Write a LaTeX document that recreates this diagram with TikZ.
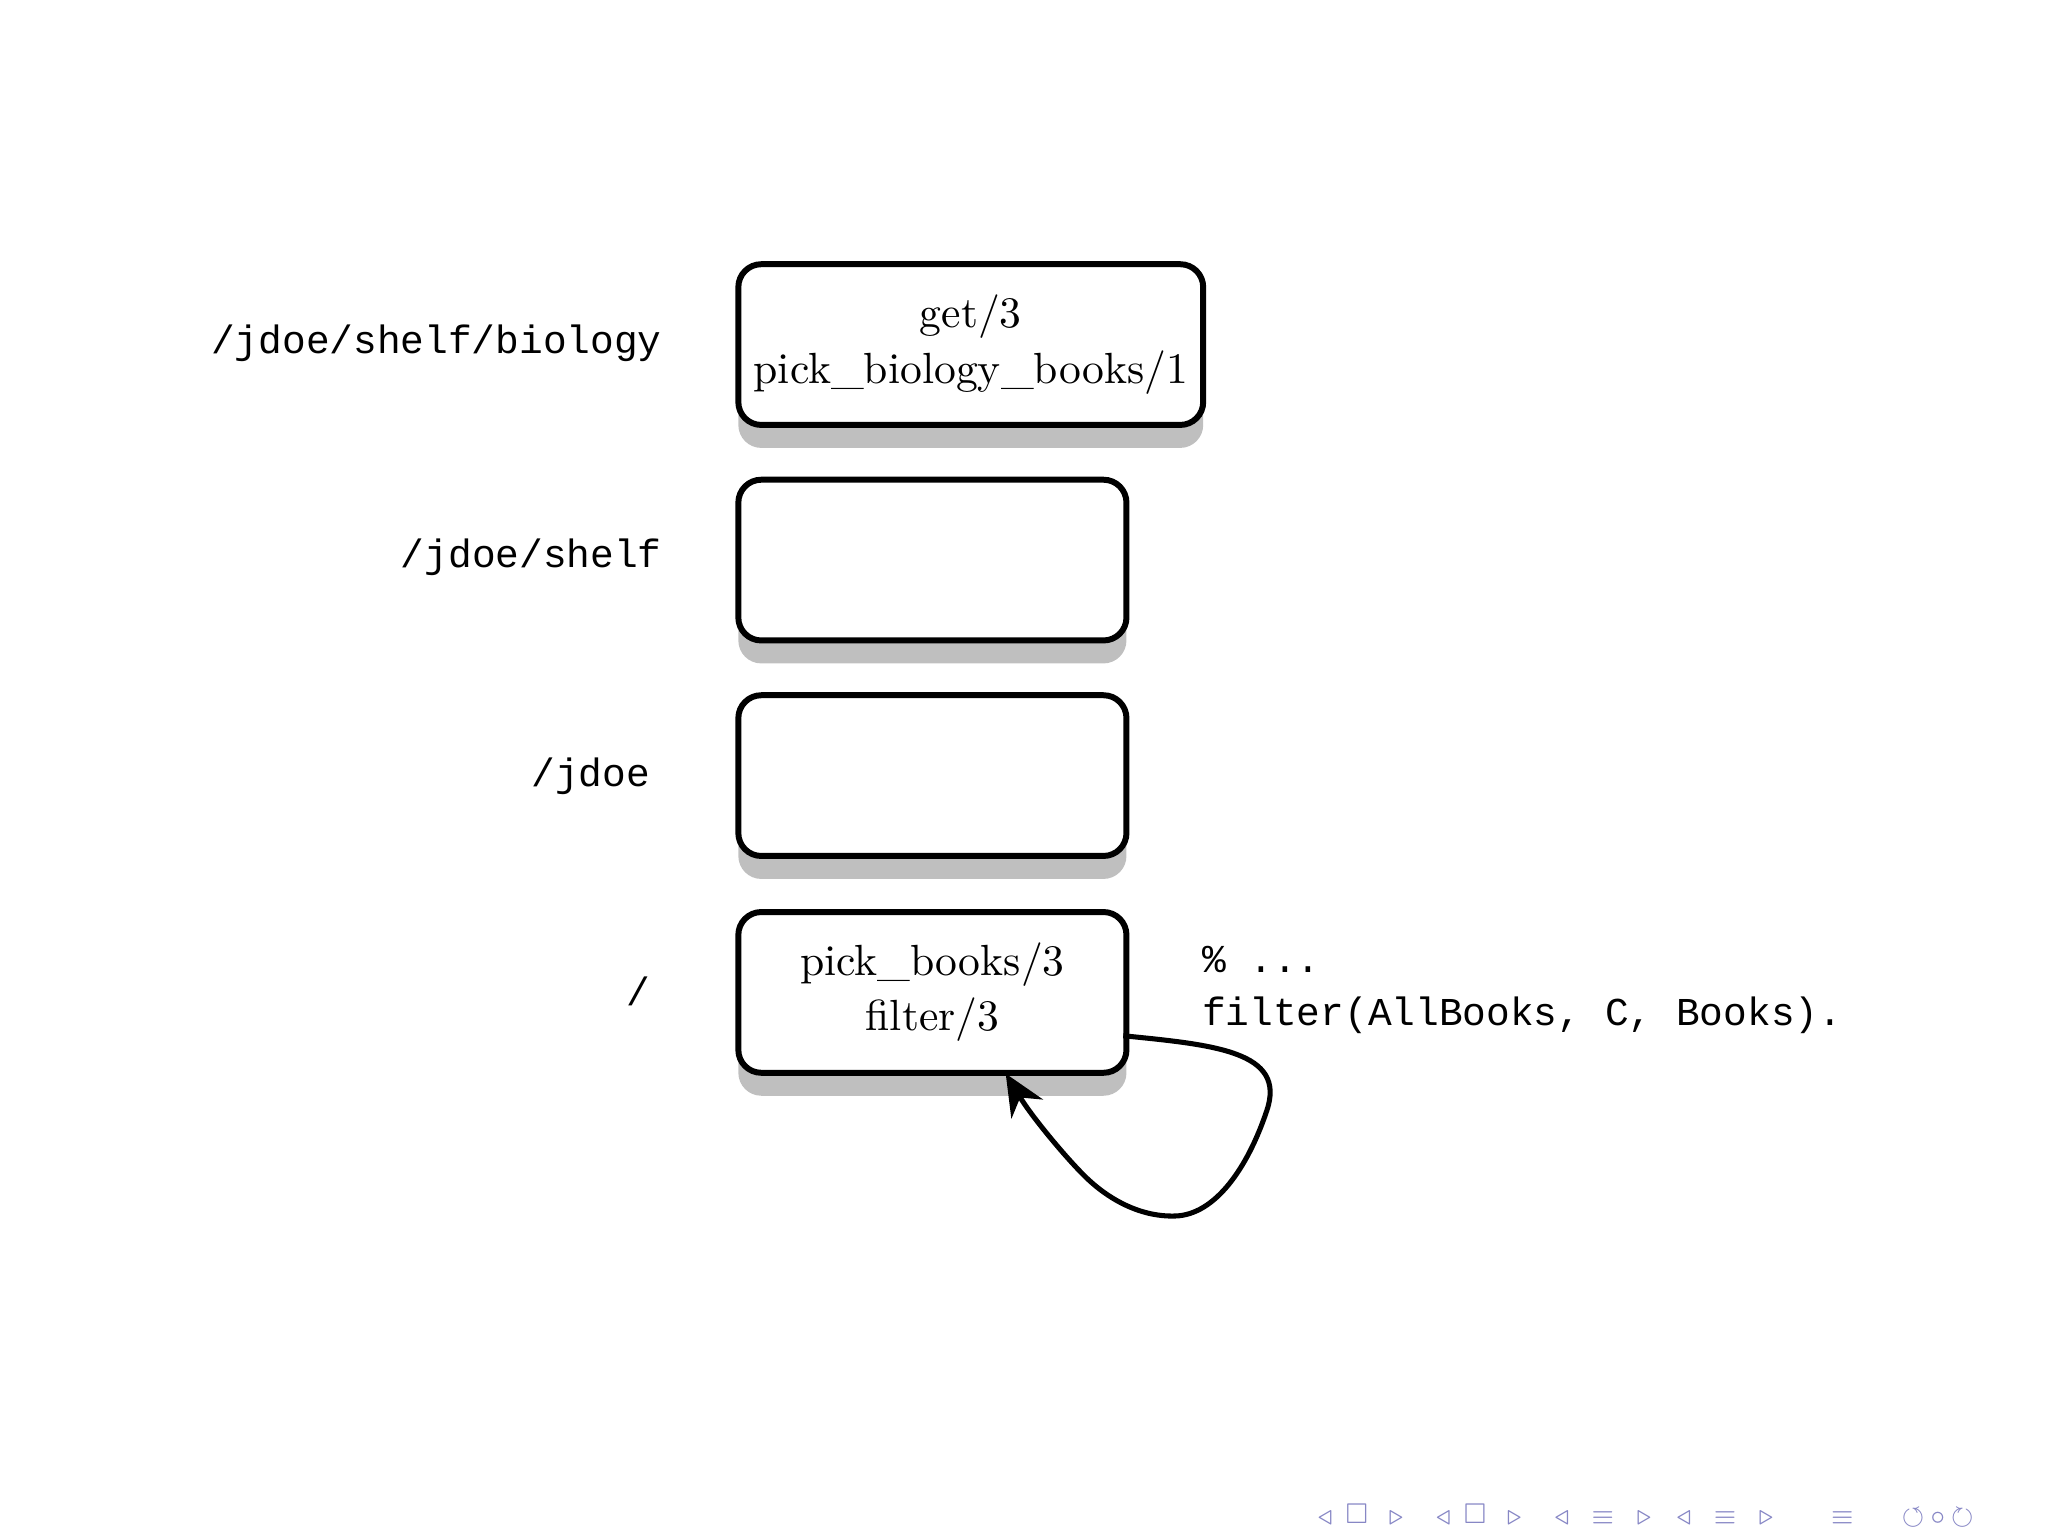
\documentclass[tikz,border=0pt]{standalone}
\usepackage{amssymb}
\usepackage{fontspec}
\setmonofont{Liberation Mono}
\usetikzlibrary{shadows,arrows.meta}
\begin{document}
\begin{tikzpicture}[x=0.01cm,y=-0.01cm,
  box/.style={draw,line width=1.3pt,rounded corners=5pt,fill=white,minimum width=2.97cm,minimum height=1.23cm,anchor=north west,align=center,font=\fontsize{9.5}{12}\selectfont,
   drop shadow={shadow xshift=0pt,shadow yshift=-5pt,opacity=0.5}},
  lab/.style={anchor=east,font=\fontsize{8.6}{10}\ttfamily},
  nav/.style={text=blue!35!gray!70,font=\fontsize{5}{6}\selectfont}]
\useasboundingbox (0,0) rectangle (1568,1176);
\node[box] (b1) at (563,200) {get/3\\pick\_biology\_books/1};
\node[box] (b2) at (563,365) {};
\node[box] (b3) at (563,530) {};
\node[box] (b4) at (563,696) {pick\_books/3\\filter/3};
\node[lab] (l1) at (519,263) {/jdoe/shelf/biology};
\node[lab] (l2) at (519,427) {/jdoe/shelf};
\node[lab] (l3) at (510,594) {/jdoe};
\node[lab] (l4) at (510,759) {/};
\node[anchor=north west,align=left,font=\fontsize{8.6}{11.5}\ttfamily] (code) at (908,712) {\% ...\\filter(AllBooks, C, Books).};
\coordinate (s) at (860,793);
\coordinate (e) at (770,822);
\draw[line width=1.1pt,-{Stealth[length=9pt,width=8pt]}] (s) .. controls (930,800) and (985,805) .. (970,850) .. controls (955,895) and (930,930) .. (900,931) .. controls (870,932) and (845,915) .. (830,900) .. controls (815,885) and (790,855) .. (e);
\node[nav] (n1) at (1260,1161) {$\triangleleft\ \square\ \triangleright\quad \triangleleft\ \square\ \triangleright\quad \triangleleft\ \equiv\ \triangleright\quad \triangleleft\ \equiv\ \triangleright\qquad \equiv\qquad \circlearrowleft\!\circ\!\circlearrowright$};
\end{tikzpicture}
\end{document}
